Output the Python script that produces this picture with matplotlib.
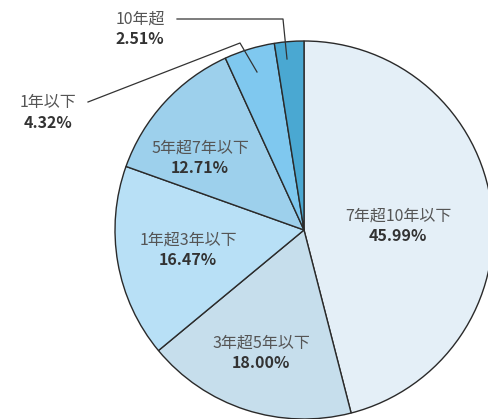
#!/usr/bin/env python3
"""Pie chart of remaining maturity breakdown."""

import matplotlib
matplotlib.use("Agg")
import matplotlib.pyplot as plt

plt.rcParams["font.family"] = ["Noto Sans CJK JP", "DejaVu Sans"]

categories = ["7年超10年以下", "3年超5年以下", "1年超3年以下", "5年超7年以下", "1年以下", "10年超"]
shares     = [45.99, 18.00, 16.47, 12.71, 4.32, 2.51]
colors     = ["#e4eff7", "#c6deec", "#b8e0f6", "#9dd0ec", "#7fc8ef", "#4aa8d2"]

# label centres in pixel coords (x from left, y from top)
label_px = [(398, 226), (261, 353), (188, 250), (200, 158), (48, 113), (140, 29)]

W, H = 489, 419
CX, CY, R = 304, 230, 189


def to_data(px, py):
    return (px - CX) / R, (CY - py) / R


def main():
    fig = plt.figure(figsize=(W / 100, H / 100), dpi=100)
    ax = fig.add_axes([0, 0, 1, 1])
    ax.pie(shares, colors=colors, startangle=90, counterclock=False,
           wedgeprops=dict(edgecolor="#2a2a2a", linewidth=1.0))
    ax.set_xlim(-CX / R, (W - CX) / R)
    ax.set_ylim(-(H - CY) / R, CY / R)
    ax.axis("off")

    for name, val, (px, py) in zip(categories, shares, label_px):
        x, y = to_data(px, py)
        ax.text(x, y + 0.055, name, ha="center", va="center",
                fontsize=11.5, color="#555555")
        ax.text(x, y - 0.055, f"{val:.2f}%", ha="center", va="center",
                fontsize=11.5, color="#333333", fontweight="bold")

    # leader lines for the two small slices
    for pts in ([(177, 19), (283, 19), (287, 59)],
                [(88, 102), (240, 43), (257, 72)]):
        xs, ys = zip(*[to_data(px, py) for px, py in pts])
        ax.plot(xs, ys, color="#333333", linewidth=0.9)

    fig.savefig("out.png", dpi=100)
    plt.close()


if __name__ == "__main__":
    main()
